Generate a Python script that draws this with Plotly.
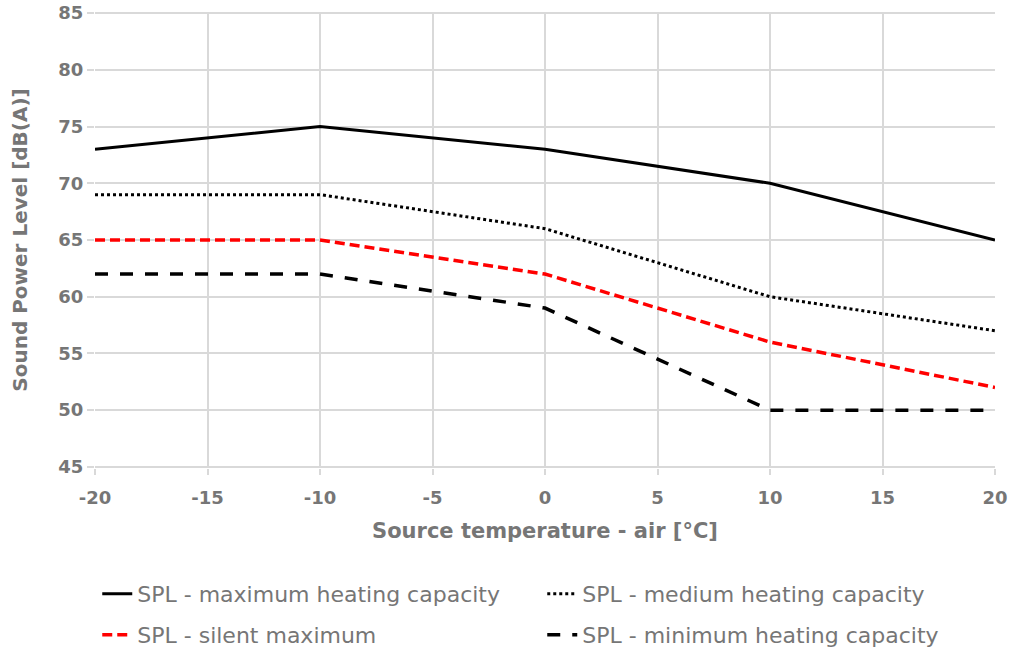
import plotly.graph_objects as go

temperatura = [-20, -10, 0, 10, 20]
spl_maximo = [73, 75, 73, 70, 65]
spl_medio = [69, 69, 66, 60, 57]
spl_silencioso = [65, 65, 62, 56, 52]
spl_minimo = [62, 62, 59, 50, 50]

ticks_x = [-20, -15, -10, -5, 0, 5, 10, 15, 20]
etiquetas_x = ["-20", "-15", "-10", "-5", "0", "5", "10", "15", "20"]
ticks_y = [45, 50, 55, 60, 65, 70, 75, 80, 85]

nombres = [
    "SPL - maximum heating capacity",
    "SPL - medium heating capacity",
    "SPL - silent maximum",
    "SPL - minimum heating capacity",
]

gris = "#767676"
fuente = "DejaVu Sans, sans-serif"

fig = go.Figure()
series = [
    (spl_maximo, nombres[0], dict(color="black", width=3, dash="solid"), "legend"),
    (spl_medio, nombres[1], dict(color="black", width=3, dash="dot"), "legend"),
    (spl_silencioso, nombres[2], dict(color="#ff0000", width=3.5, dash="10px,5px"), "legend2"),
    (spl_minimo, nombres[3], dict(color="black", width=3.5, dash="13px,12px"), "legend2"),
]
for valores, nombre, linea, leyenda in series:
    fig.add_trace(go.Scatter(x=temperatura, y=valores, name=nombre, mode="lines",
                             line=linea, legend=leyenda))

leyenda_base = dict(
    orientation="h",
    x=0.0025,
    xanchor="left",
    yanchor="middle",
    entrywidth=400,
    entrywidthmode="pixels",
    font=dict(size=22, color=gris, family=fuente),
    bgcolor="rgba(0,0,0,0)",
)

fig.update_layout(
    width=1028,
    height=651,
    margin=dict(l=95, r=33, t=12, b=183, autoexpand=False),
    plot_bgcolor="white",
    paper_bgcolor="white",
    font=dict(family=fuente, color=gris, size=18),
    showlegend=True,
    legend=dict(leyenda_base, y=-0.276),
    legend2=dict(leyenda_base, y=-0.366),
)

fig.update_xaxes(
    range=[-20, 20],
    tickvals=ticks_x,
    ticktext=etiquetas_x,
    showgrid=True,
    gridcolor="#d9d9d9",
    gridwidth=1.5,
    zeroline=False,
    showline=False,
    automargin=False,
    ticks="outside",
    ticklen=6,
    tickcolor="#d9d9d9",
    tickwidth=1.5,
    ticklabelstandoff=7,
    ticklabeloverflow="allow",
    tickfont=dict(size=18, color=gris, family=fuente, weight="bold"),
    title=dict(text="Source temperature - air [°C]",
               font=dict(size=21, color=gris, family=fuente, weight="bold"), standoff=16),
)
fig.update_yaxes(
    # rango algo más amplio para que se dibujen las líneas de rejilla de 45 y 85
    range=[44.9, 85.1],
    tickvals=ticks_y,
    showgrid=True,
    gridcolor="#d9d9d9",
    gridwidth=1.5,
    zeroline=False,
    showline=False,
    automargin=False,
    ticks="outside",
    ticklen=7,
    tickcolor="#d9d9d9",
    tickwidth=1.5,
    ticklabeloverflow="allow",
    tickfont=dict(size=18, color=gris, family=fuente, weight="bold"),
    title=dict(text="Sound Power Level [dB(A)]",
               font=dict(size=20, color=gris, family=fuente, weight="bold"), standoff=25),
)

# quitar el margen por defecto del body para que la figura ocupe toda la ventana
fig.write_html(
    "out.html",
    config={"displayModeBar": False},
    post_script="document.body.style.margin = '0';",
)
